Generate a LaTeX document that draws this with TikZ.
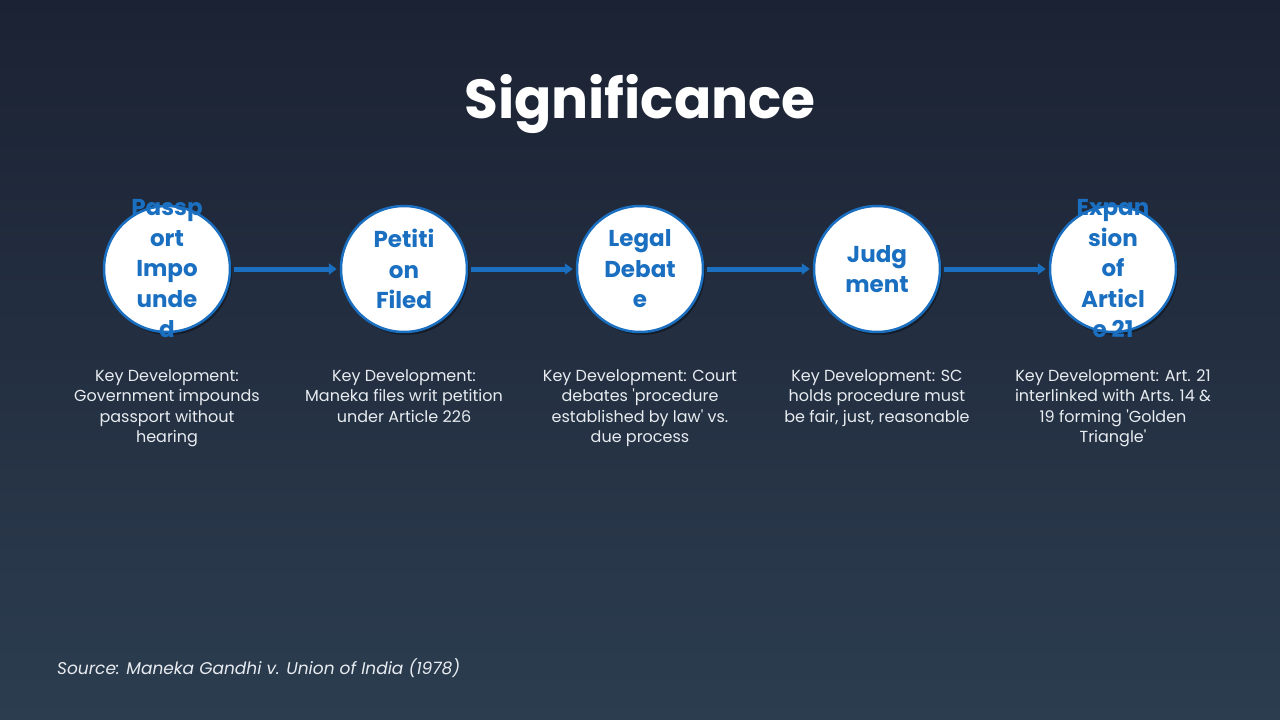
\documentclass[tikz,border=0pt]{standalone}
\usepackage{fontspec}
\setmainfont{Poppins}
\usetikzlibrary{arrows.meta,shadows}
\definecolor{bgtop}{HTML}{1B2233}
\definecolor{bgbot}{HTML}{2C3D50}
\definecolor{stepblue}{HTML}{1A6FC0}
\definecolor{desctext}{HTML}{E8ECF0}
\tikzset{
  stepcircle/.style={circle, draw=stepblue, line width=2.5pt, fill=white, minimum size=126pt, inner sep=0pt,
    drop shadow={shadow xshift=2pt, shadow yshift=-3pt, fill=black, opacity=0.35}},
  steplabel/.style={text=stepblue, font=\fontsize{23}{30.5}\selectfont\bfseries, align=center, inner sep=0pt},
  desc/.style={text=desctext, font=\fontsize{16}{20.5}\selectfont, align=center, anchor=north, inner sep=0pt},
  flow/.style={draw=stepblue, line width=5pt, -{Triangle[length=8pt,width=11pt]}, shorten <=3pt, shorten >=3pt}
}
\newcommand{\sq}{\textquotesingle}
\begin{document}
\begin{tikzpicture}[x=1pt,y=-1pt]
\shade[top color=bgtop, bottom color=bgbot] (0,0) rectangle (1280,720);
\useasboundingbox (0,0) rectangle (1280,720);
\node[text=white, font=\fontsize{55}{60}\selectfont\bfseries] (title) at (640,104) {Significance};

\foreach \i/\x in {1/167,2/404,3/640,4/877,5/1113}{
  \node[stepcircle] (c\i) at (\x,269) {};
}
\node[steplabel] (l1) at (c1) {Passp\\ort\\Impo\\unde\\d};
\node[steplabel] (l2) at (c2) {Petiti\\on\\Filed};
\node[steplabel] (l3) at (c3) {Legal\\Debat\\e};
\node[steplabel] (l4) at (c4) {Judg\\ment};
\node[steplabel] (l5) at (c5) {Expan\\sion\\of\\Articl\\e 21};

\draw[flow] (c1) -- (c2);
\draw[flow] (c2) -- (c3);
\draw[flow] (c3) -- (c4);
\draw[flow] (c4) -- (c5);

\node[desc] (d1) at (167,369) {Key Development:\\Government impounds\\passport without\\hearing};
\node[desc] (d2) at (404,369) {Key Development:\\Maneka files writ petition\\under Article 226};
\node[desc] (d3) at (640,369) {Key Development: Court\\debates \sq procedure\\established by law\sq\ vs.\\due process};
\node[desc] (d4) at (877,369) {Key Development: SC\\holds procedure must\\be fair, just, reasonable};
\node[desc] (d5) at (1113,369) {Key Development: Art. 21\\interlinked with Arts. 14 \&\\19 forming \sq Golden\\Triangle\sq};

\node[anchor=west, text=desctext, font=\fontsize{17}{24}\selectfont\itshape, inner sep=0pt] (src) at (57,668) {Source: Maneka Gandhi v. Union of India (1978)};
\end{tikzpicture}
\end{document}
